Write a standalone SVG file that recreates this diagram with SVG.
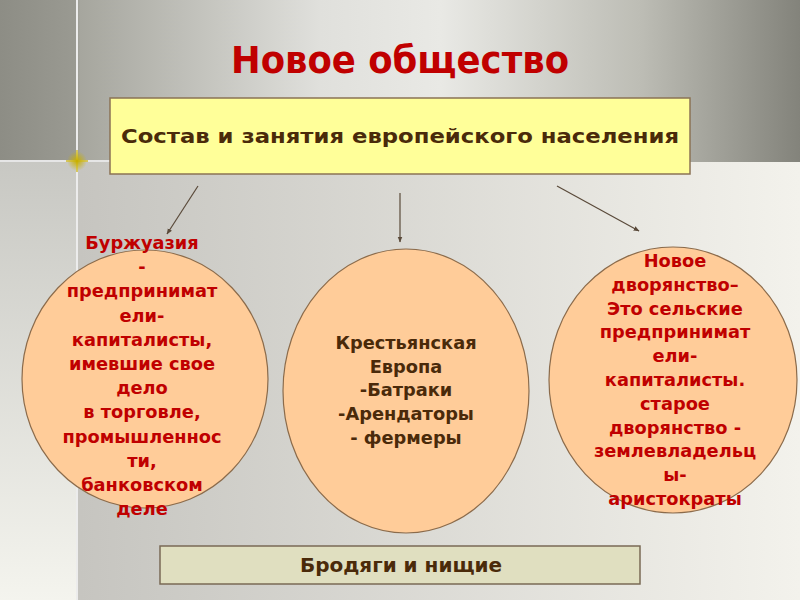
<svg xmlns="http://www.w3.org/2000/svg" width="800" height="600" viewBox="0 0 800 600">
<defs>
<linearGradient id="bgMain" x1="0" y1="0" x2="1" y2="0">
<stop offset="0" stop-color="#c2c1bc"/>
<stop offset="0.1" stop-color="#c6c5c0"/>
<stop offset="1" stop-color="#f3f2ec"/>
</linearGradient>
<linearGradient id="bgLeft" x1="0" y1="0" x2="0" y2="1">
<stop offset="0" stop-color="#c8c8c3"/>
<stop offset="1" stop-color="#f4f4ee"/>
</linearGradient>
<linearGradient id="bgTop" x1="0" y1="0" x2="1" y2="0">
<stop offset="0" stop-color="#8d8d85"/>
<stop offset="0.096" stop-color="#9a9a92"/>
<stop offset="0.1" stop-color="#a6a69e"/>
<stop offset="0.4" stop-color="#e0e0dc"/>
<stop offset="0.55" stop-color="#e9e9e5"/>
<stop offset="0.8" stop-color="#bdbdb5"/>
<stop offset="1" stop-color="#83837b"/>
</linearGradient>
<radialGradient id="star" cx="0.5" cy="0.5" r="0.5">
<stop offset="0" stop-color="#c8b000" stop-opacity="1"/>
<stop offset="1" stop-color="#c8b000" stop-opacity="0"/>
</radialGradient>
<marker id="arr" viewBox="0 0 10 10" refX="9" refY="5" markerWidth="6" markerHeight="6" orient="auto" markerUnits="userSpaceOnUse">
<path d="M0,1 L10,5 L0,9 Z" fill="#5a4a3a"/>
</marker>
<style>
.node-ell{fill:#ffcc99;stroke:#8b6b4b;stroke-width:1.2}
.red{font-family:"DejaVu Sans","Liberation Sans",sans-serif;font-weight:bold;font-size:17.8px;fill:#c00000;text-anchor:middle}
.brown{font-family:"DejaVu Sans","Liberation Sans",sans-serif;font-weight:bold;font-size:17.8px;fill:#4a2a0a;text-anchor:middle}
.conn{stroke:#5a4a3a;stroke-width:1.2;fill:none;marker-end:url(#arr)}
</style>
</defs>

<!-- background -->
<rect x="0" y="0" width="800" height="600" fill="url(#bgMain)"/>
<rect x="0" y="162" width="77" height="438" fill="url(#bgLeft)"/>
<rect x="0" y="0" width="800" height="162" fill="url(#bgTop)"/>
<line x1="77" y1="0" x2="77" y2="600" stroke="#ececec" stroke-width="2"/>
<line x1="0" y1="161" x2="112" y2="161" stroke="#e6e6e6" stroke-width="2"/>
<circle cx="77" cy="161" r="10" fill="url(#star)"/>
<line x1="66" y1="161" x2="88" y2="161" stroke="#c8b000" stroke-width="1.5" stroke-opacity="0.8"/>
<line x1="77" y1="150" x2="77" y2="172" stroke="#c8b000" stroke-width="1.5" stroke-opacity="0.8"/>

<!-- title -->
<g id="title">
<text x="400" y="73" font-family="DejaVu Sans, Liberation Sans, sans-serif" font-weight="bold" font-size="37" fill="#c00000" text-anchor="middle" textLength="338" lengthAdjust="spacingAndGlyphs">Новое общество</text>
</g>

<!-- top box -->
<g id="composition">
<rect x="110" y="98" width="580" height="76" fill="#ffff99" stroke="#8b7355" stroke-width="1.5"/>
<text x="400" y="143" font-family="DejaVu Sans, Liberation Sans, sans-serif" font-weight="bold" font-size="19" fill="#4a2a0a" text-anchor="middle" textLength="558" lengthAdjust="spacingAndGlyphs">Состав и занятия европейского населения</text>
</g>

<!-- connectors -->
<g id="connectors">
<line class="conn" x1="198" y1="186" x2="167" y2="234"/>
<line class="conn" x1="400" y1="193" x2="400" y2="242"/>
<line class="conn" x1="557" y1="186" x2="639" y2="231"/>
</g>

<!-- left ellipse -->
<g id="bourgeoisie">
<ellipse class="node-ell" cx="145" cy="379" rx="123" ry="129"/>
<text class="red" x="142" y="249">Буржуазия</text>
<text class="red" x="142" y="273">-</text>
<text class="red" x="142" y="297">предпринимат</text>
<text class="red" x="142" y="322">ели-</text>
<text class="red" x="142" y="346">капиталисты,</text>
<text class="red" x="142" y="370">имевшие свое</text>
<text class="red" x="142" y="394">дело</text>
<text class="red" x="142" y="418">в торговле,</text>
<text class="red" x="142" y="443">промышленнос</text>
<text class="red" x="142" y="467">ти,</text>
<text class="red" x="142" y="491">банковском</text>
<text class="red" x="142" y="515">деле</text>
</g>

<!-- middle ellipse -->
<g id="peasants">
<ellipse class="node-ell" cx="406" cy="391" rx="123" ry="142"/>
<text class="brown" x="406" y="349">Крестьянская</text>
<text class="brown" x="406" y="373">Европа</text>
<text class="brown" x="406" y="396">-Батраки</text>
<text class="brown" x="406" y="420">-Арендаторы</text>
<text class="brown" x="406" y="444">- фермеры</text>
</g>

<!-- right ellipse -->
<g id="nobility">
<ellipse class="node-ell" cx="673" cy="380" rx="124" ry="133"/>
<text class="red" x="675" y="267">Новое</text>
<text class="red" x="675" y="291">дворянство–</text>
<text class="red" x="675" y="315">Это сельские</text>
<text class="red" x="675" y="338">предпринимат</text>
<text class="red" x="675" y="362">ели-</text>
<text class="red" x="675" y="386">капиталисты.</text>
<text class="red" x="675" y="410">старое</text>
<text class="red" x="675" y="434">дворянство -</text>
<text class="red" x="675" y="457">землевладельц</text>
<text class="red" x="675" y="481">ы-</text>
<text class="red" x="675" y="505">аристократы</text>
</g>

<!-- bottom box -->
<g id="vagrants">
<rect x="160" y="546" width="480" height="38" fill="#e0dfc0" stroke="#7a6a55" stroke-width="1.5"/>
<text class="brown" x="401" y="572" style="font-size:20px">Бродяги и нищие</text>
</g>
</svg>
